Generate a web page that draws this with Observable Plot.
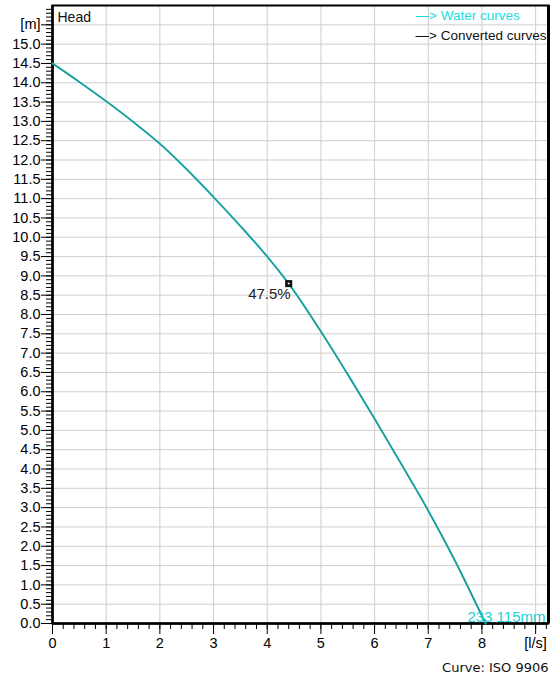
<!DOCTYPE html>
<html>
<head>
<meta charset="utf-8">
<script src="https://cdn.jsdelivr.net/npm/d3@7"></script>
<script src="https://cdn.jsdelivr.net/npm/@observablehq/plot@0.6"></script>
<style>
  html, body { margin: 0; padding: 0; background: white; }
</style>
</head>
<body>
<div id="chart"></div>
<script>
// Pump curve: flow [l/s] vs head [m]
const flow = [0, 0.5, 1, 1.5, 2, 2.5, 3, 3.5, 4, 4.4, 5, 5.5, 6, 6.5, 7, 7.5, 8, 8.07];
const head = [14.5, 14.02, 13.52, 12.99, 12.42, 11.76, 11.04, 10.29, 9.5, 8.8, 7.56, 6.45, 5.3, 4.12, 2.92, 1.62, 0.2, 0];

// Duty point
const dutyFlow = [4.4];
const dutyHead = [8.8];
const dutyLabel = ["47.5%"];

// Tick labels
const xTicks = [0, 1, 2, 3, 4, 5, 6, 7, 8, 9];
const xTickLabels = ["0", "1", "2", "3", "4", "5", "6", "7", "8", "[l/s]"];
const yTicks = [0, 0.5, 1, 1.5, 2, 2.5, 3, 3.5, 4, 4.5, 5, 5.5, 6, 6.5, 7, 7.5, 8, 8.5, 9, 9.5, 10, 10.5, 11, 11.5, 12, 12.5, 13, 13.5, 14, 14.5, 15, 15.5];
const yTickLabels = ["0.0","0.5","1.0","1.5","2.0","2.5","3.0","3.5","4.0","4.5","5.0","5.5","6.0","6.5","7.0","7.5","8.0","8.5","9.0","9.5","10.0","10.5","11.0","11.5","12.0","12.5","13.0","13.5","14.0","14.5","15.0","[m]"];

const xMinor = d3.range(0, 9.21, 0.2);
const yMinor = d3.range(0, 15.96, 0.1);

const curve = flow.map((f, i) => ({flow: f, head: head[i]}));
const duty = dutyFlow.map((f, i) => ({flow: f, head: dutyHead[i], label: dutyLabel[i]}));

const font = "'Liberation Sans', Arial, sans-serif";

const chart = Plot.plot({
  width: 559,
  height: 677,
  marginLeft: 52,
  marginRight: 11,
  marginTop: 5,
  marginBottom: 54,
  x: {domain: [0, 9.24]},
  y: {domain: [0, 16]},
  style: {fontFamily: font, fontSize: "14.5px", background: "white", color: "black", overflow: "visible"},
  marks: [
    Plot.gridX({ticks: xTicks.slice(1), stroke: "#cfcfcf", strokeOpacity: 1, strokeWidth: 1}),
    Plot.gridY({ticks: yTicks.slice(1), stroke: "#cfcfcf", strokeOpacity: 1, strokeWidth: 1}),
    Plot.axisX({ticks: xMinor, tickSize: 6, tickFormat: () => "", label: null, stroke: "black", strokeWidth: 1}),
    Plot.axisX({ticks: xTicks, tickSize: 11, tickPadding: 3, label: null, stroke: "black", strokeWidth: 1,
      tickFormat: d => xTickLabels[xTicks.indexOf(d)], fontSize: 14.5}),
    Plot.axisY({ticks: yMinor, tickSize: 6, tickFormat: () => "", label: null, stroke: "black", strokeWidth: 1}),
    Plot.axisY({ticks: yTicks, tickSize: 11, tickPadding: 1, label: null, stroke: "black", strokeWidth: 1,
      tickFormat: d => yTickLabels[yTicks.indexOf(d)], fontSize: 14.5}),
    Plot.frame({stroke: "black", strokeWidth: 2}),
    Plot.ruleX([0], {stroke: "black", strokeWidth: 2.5}),
    Plot.ruleY([0], {stroke: "black", strokeWidth: 2.5}),
    Plot.ruleX([9.24], {stroke: "black", strokeWidth: 3}),
    Plot.line(curve, {x: "flow", y: "head", stroke: "#22b4b4", strokeWidth: 2, curve: "monotone-x"}),
    Plot.line(curve, {x: "flow", y: "head", stroke: "#155858", strokeWidth: 0.6, strokeOpacity: 0.7, curve: "monotone-x"}),
    Plot.dot(duty, {x: "flow", y: "head", symbol: "square", r: 4, fill: "#111", stroke: "none"}),
    Plot.dot(duty, {x: "flow", y: "head", r: 1, fill: "white", stroke: "none"}),
    Plot.text(duty, {x: "flow", y: "head", text: "label", textAnchor: "end", dx: 2, dy: 11, fontSize: 15, fill: "#222"}),
    Plot.text(["Head"], {frameAnchor: "top-left", dx: 5, dy: 7, textAnchor: "start", fontSize: 14, fill: "#111"}),
    Plot.text(["—> Water curves"], {frameAnchor: "top-left", dx: 363, dy: 5, textAnchor: "start", fontSize: 13.5, fill: "#1cdede"}),
    Plot.text(["—> Converted curves"], {frameAnchor: "top-left", dx: 363, dy: 25, textAnchor: "start", fontSize: 13.5, fill: "#111"}),
    Plot.text(["233 115mm"], {frameAnchor: "bottom-right", dx: -3, dy: -2, textAnchor: "end", lineAnchor: "bottom", fontSize: 15, fill: "#1cd2d2"}),
    Plot.text(["Curve: ISO 9906"], {frameAnchor: "bottom-right", dx: 0, dy: 48, textAnchor: "end", lineAnchor: "bottom", fontSize: 13, fontFamily: "'DejaVu Sans', sans-serif", fill: "#111"})
  ]
});

document.getElementById("chart").appendChild(chart);
</script>
</body>
</html>
